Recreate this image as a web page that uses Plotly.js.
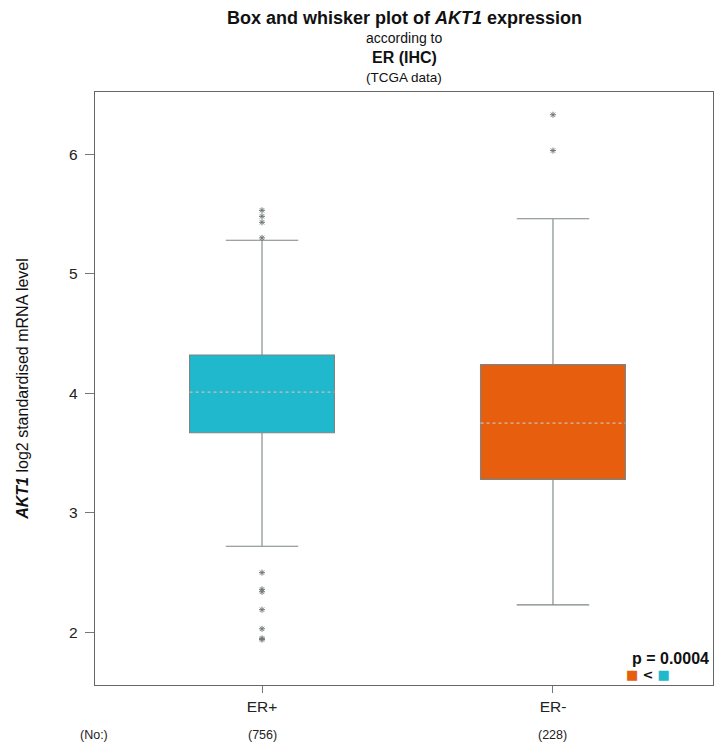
<!DOCTYPE html>
<html>
<head>
<meta charset="utf-8">
<script src="https://cdn.plot.ly/plotly-3.0.1.min.js"></script>
<style>html,body{margin:0;padding:0;background:#fff;}#chart{width:715px;height:746px;}</style>
</head>
<body>
<div id="chart"></div>
<script>
const groups = ['ER+', 'ER-'];
const counts = ['(756)', '(228)'];
const q1 = [3.67, 3.28];
const median = [4.01, 3.75];
const q3 = [4.32, 4.24];
const lowerWhisker = [2.72, 2.23];
const upperWhisker = [5.28, 5.46];
const outliersERpos = [5.53, 5.48, 5.43, 5.30, 2.50, 2.36, 2.34, 2.19, 2.03, 1.95, 1.94];
const outliersERneg = [6.33, 6.03];
const boxColors = ['#20B8CD', '#E75E0E'];

const outliers = [outliersERpos, outliersERneg];
const positions = groups.map((g, i) => i);
const halfW = 0.249;
const traces = [];

groups.forEach((g, i) => {
  traces.push({
    type: 'box', x: [positions[i]], q1: [q1[i]], median: [median[i]], q3: [q3[i]],
    lowerfence: [lowerWhisker[i]], upperfence: [upperWhisker[i]],
    width: 0.498, whiskerwidth: 0.5, boxpoints: false,
    fillcolor: boxColors[i], line: {color: '#7c8586', width: 1.1},
    hoverinfo: 'skip', showlegend: false
  });
});
groups.forEach((g, i) => {
  traces.push({
    type: 'scatter', mode: 'lines',
    x: [positions[i] - halfW + 0.005, positions[i] + halfW - 0.005], y: [median[i], median[i]],
    line: {color: boxColors[i], width: 2.5}, hoverinfo: 'skip', showlegend: false
  });
  traces.push({
    type: 'scatter', mode: 'lines',
    x: [positions[i] - halfW, positions[i] + halfW], y: [median[i], median[i]],
    line: {color: '#cdbfb0', width: 1.1, dash: 'dot'}, hoverinfo: 'skip', showlegend: false
  });
  traces.push({
    type: 'scatter', mode: 'markers',
    x: outliers[i].map(() => positions[i]), y: outliers[i],
    marker: {symbol: 'asterisk-open', size: 5, color: '#6f7777', line: {color: '#6f7777', width: 1}},
    hoverinfo: 'skip', showlegend: false
  });
});

const font = 'Liberation Sans, Arial, sans-serif';
const L = 95, R = 713, T = 92, B = 685;
const PW = R - L, PH = B - T;
const px = v => (v - L) / PW;
const py = v => (B - v) / PH;

const annotations = [
  {text: '<b>Box and whisker plot of <i>AKT1</i> expression</b>', y: 18, font: {size: 18}},
  {text: 'according to', y: 38, font: {size: 14}},
  {text: '<b>ER (IHC)</b>', y: 58, font: {size: 16}},
  {text: '(TCGA data)', y: 78, font: {size: 13.5}}
].map(a => ({
  text: a.text, xref: 'paper', yref: 'paper', x: 0.5, y: py(a.y),
  xanchor: 'center', yanchor: 'middle', showarrow: false, font: Object.assign({family: font, color: '#111'}, a.font)
}));

groups.forEach((g, i) => {
  annotations.push({
    text: counts[i], xref: 'x', yref: 'paper', x: positions[i], y: py(735),
    xanchor: 'center', yanchor: 'middle', showarrow: false, font: {family: font, size: 12.5, color: '#222'}
  });
});
annotations.push({
  text: '(No:)', xref: 'paper', yref: 'paper', x: px(94), y: py(735),
  xanchor: 'center', yanchor: 'middle', showarrow: false, font: {family: font, size: 12.5, color: '#222'}
});
annotations.push({
  text: '<b>p = 0.0004</b>', xref: 'paper', yref: 'paper', x: px(711), y: py(658),
  xanchor: 'right', yanchor: 'middle', showarrow: false, font: {family: font, size: 16, color: '#111'}
});
annotations.push({
  text: '<span style="color:' + boxColors[1] + '">■</span> <b>&lt;</b> <span style="color:' + boxColors[0] + '">■</span>',
  xref: 'paper', yref: 'paper', x: px(648), y: py(674),
  xanchor: 'center', yanchor: 'middle', showarrow: false, font: {family: 'DejaVu Sans, sans-serif', size: 13, color: '#111'}
});

const layout = {
  width: 715, height: 746,
  margin: {l: L, r: 715 - R, t: T, b: 746 - B},
  paper_bgcolor: '#fff', plot_bgcolor: '#fff',
  showlegend: false,
  font: {family: font, color: '#222'},
  xaxis: {
    range: [-0.574, 1.55], tickvals: positions, ticktext: groups,
    ticks: 'outside', ticklen: 7, tickcolor: '#777', tickwidth: 1,
    showgrid: false, zeroline: false, showline: true, mirror: true,
    linecolor: '#666', linewidth: 1.2, tickfont: {family: font, size: 15.5, color: '#222'}
  },
  yaxis: {
    range: [1.56, 6.52], tickvals: [2, 3, 4, 5, 6],
    ticks: 'outside', ticklen: 9, tickcolor: '#777', tickwidth: 1, ticklabelstandoff: 4,
    showgrid: false, zeroline: false, showline: true, mirror: true,
    linecolor: '#666', linewidth: 1.2, tickfont: {family: font, size: 15.5, color: '#222'},
    title: {text: '<b><i>AKT1</i></b> log2 standardised mRNA level', font: {family: font, size: 16, color: '#111'}, standoff: 36}
  },
  annotations: annotations
};

Plotly.newPlot('chart', traces, layout, {staticPlot: true, displayModeBar: false});
</script>
</body>
</html>
